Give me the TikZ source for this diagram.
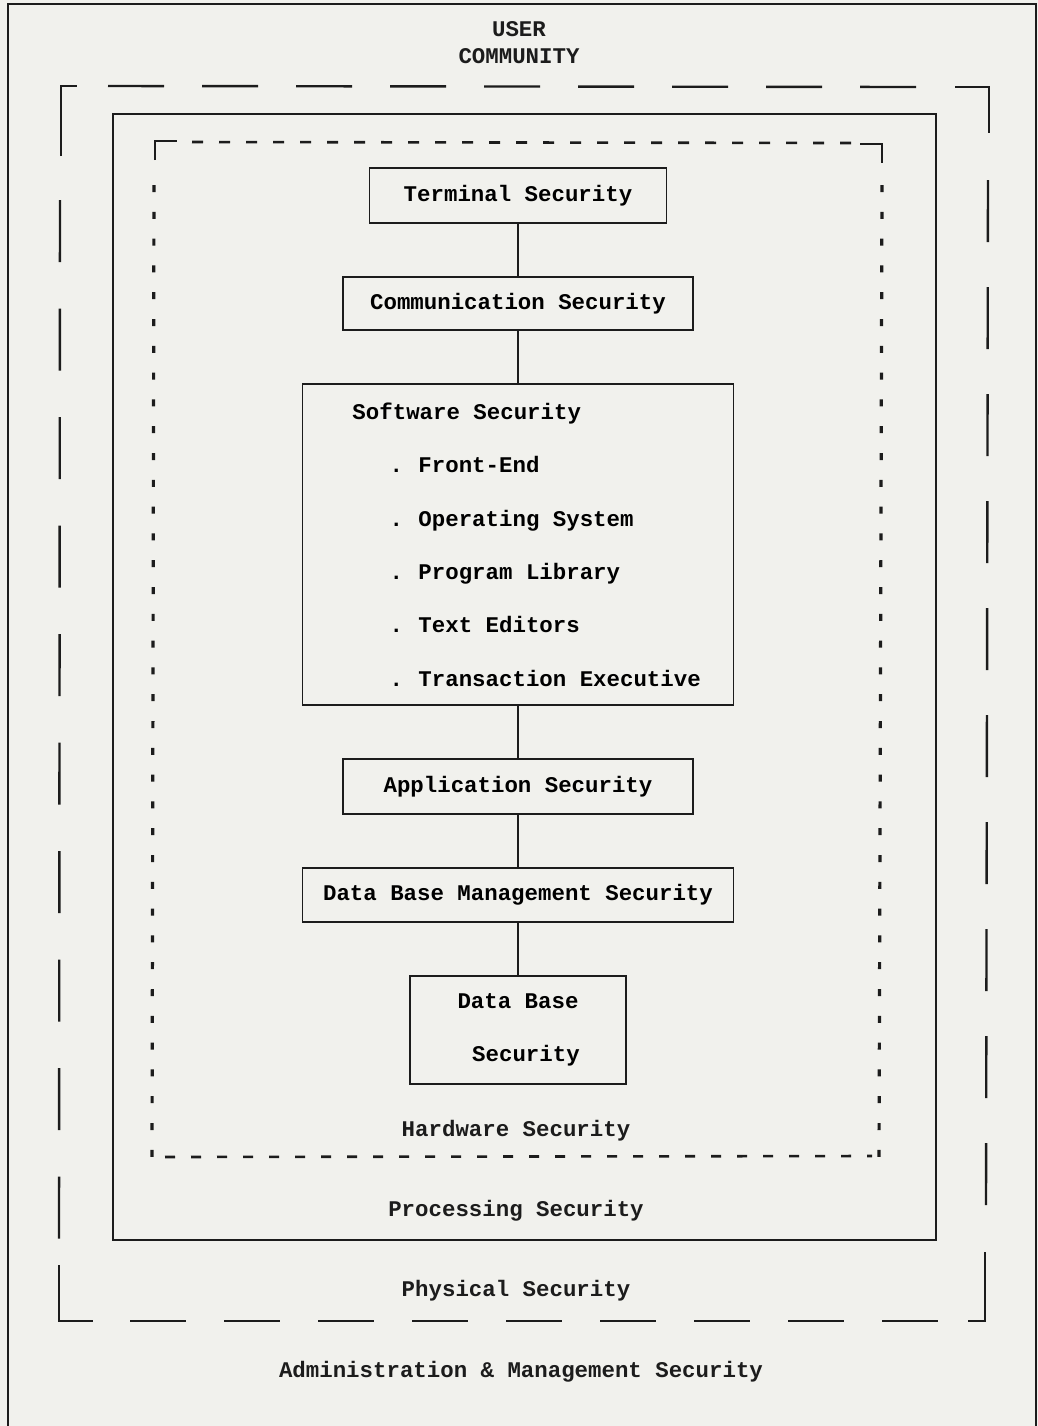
\documentclass[tikz,border=0pt]{standalone}
\usepackage{fontspec}
\setmainfont{Liberation Mono}[WordSpace={1,0,0}]
\definecolor{paper}{RGB}{241,241,237}
\definecolor{inkc}{RGB}{28,28,28}
\begin{document}
\begin{tikzpicture}[
        x=0.5pt, y=-0.5pt,
        font=\fontsize{11.2}{13.5}\selectfont\bfseries,
        ink/.style={draw=inkc},
        box/.style={ink, line width=0.8pt, inner sep=0pt, outer sep=0pt, minimum height=27.5pt},
        link/.style={ink, line width=0.8pt},
        label/.style={inner sep=0pt, align=center, text=inkc},
        frame/.style={ink, line width=1pt},
        corner/.style={ink, line width=1.2pt},
        longdash/.style={ink, line width=1.2pt, dash pattern=on 28pt off 19pt},
        shortdash/.style={ink, line width=1.3pt, dash pattern=on 5.5pt off 8pt},
        tick/.style={ink, line width=1.6pt, dash pattern=on 3.5pt off 9.9pt}
    ]
    \fill[paper] (0,0) rectangle (1038,1426);
    \useasboundingbox (0,0) rectangle (1038,1426);

    % administration frame
    \draw[frame] (8,1440) -- (8,4) -- (1036,4) -- (1036,1440);
    \node[label] (community) at (519,43) {USER\\COMMUNITY};

    % physical security
    \draw[corner] (61,156) -- (61,86) -- (77,86);
    \draw[corner] (955,87) -- (989,87) -- (989,133);
    \draw[corner] (59,1265) -- (59,1321) -- (93,1321);
    \draw[corner] (968,1321) -- (985,1321) -- (985,1252);
    \draw[longdash] (108,86) -- (917,87);
    \draw[longdash] (130,1321) -- (938,1321);
    \draw[longdash, dash pattern=on 31pt off 23.25pt] (60,200) -- (59,1239);
    \draw[longdash, dash pattern=on 31pt off 22.5pt] (988,180) -- (986,1205);

    % processing security
    \draw[frame] (113,114) rectangle (936,1240);

    % hardware security
    \draw[corner] (155,160) -- (155,141) -- (177,141);
    \draw[corner] (860,144) -- (882,144) -- (882,163);
    \draw[shortdash] (192,142) -- (852,143);
    \draw[shortdash, dash pattern=on 5pt off 8pt] (165,1157) -- (872,1156);
    \draw[tick] (154,185) -- (152,1160);
    \draw[tick] (882,185) -- (879,1160);

    \matrix (chain) [matrix anchor=north, row sep=26.2pt, inner sep=0pt] at (518,167) {
        % outer layers
        \node[box, minimum width=148.5pt] (terminal) {Terminal Security}; \\
        \node[box, minimum width=175pt, minimum height=26.5pt] (communication) {Communication Security}; \\
        % software layer
        \node[box, minimum width=215.5pt, minimum height=160.5pt, text width=215.5pt,
              align=left, font=\fontsize{11.2}{26.7}\selectfont\bfseries] (software)
            {\spaceskip=6.72pt\relax
             \hspace*{25pt}Software Security\\
             \hspace*{43.6pt}\makebox[14.4pt][l]{.}Front-End\\
             \hspace*{43.6pt}\makebox[14.4pt][l]{.}Operating System\\
             \hspace*{43.6pt}\makebox[14.4pt][l]{.}Program Library\\
             \hspace*{43.6pt}\makebox[14.4pt][l]{.}Text Editors\\
             \hspace*{43.6pt}\makebox[14.4pt][l]{.}Transaction Executive}; \\
        % inner layers
        \node[box, minimum width=175pt] (application) {Application Security}; \\
        \node[box, minimum width=215.5pt, minimum height=27pt] (dbms) {Data Base Management Security}; \\
        \node[box, minimum width=108pt, minimum height=54pt, align=center,
              font=\fontsize{11.2}{26.5}\selectfont\bfseries] (database) {Data Base\\\hspace*{8pt}Security}; \\
    };

    \draw[link] (terminal) -- (communication);
    \draw[link] (communication) -- (software);
    \draw[link] (software) -- (application);
    \draw[link] (application) -- (dbms);
    \draw[link] (dbms) -- (database);

    \node[label] (hardware) at (516,1131) {Hardware Security};
    \node[label] (processing) at (516,1211) {Processing Security};
    \node[label] (physical) at (516,1291) {Physical Security};
    \node[label] (administration) at (521,1372) {Administration \& Management Security};
\end{tikzpicture}
\end{document}
